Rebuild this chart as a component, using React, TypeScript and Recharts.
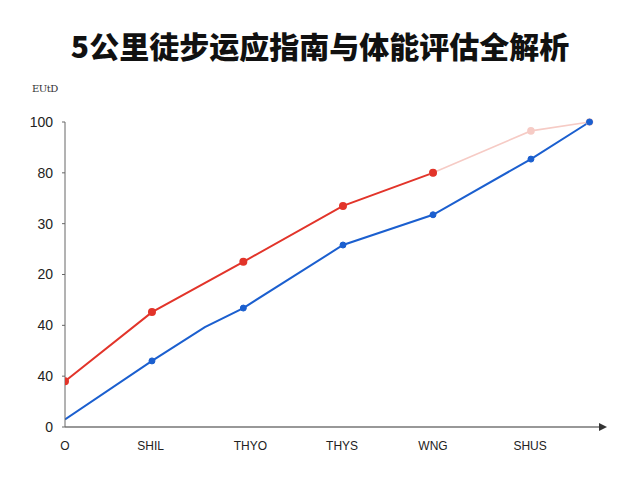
import React from 'react';
import { LineChart, Line, XAxis, YAxis } from 'recharts';

const TITLE = '5公里徒步运应指南与体能评估全解析';
const Y_NAME = 'EUtD';

// x positions of the tick labels, and their (garbled) texts
const xTicks = [0, 0.98, 2.12, 3.17, 4.21, 5.32];
const xTickLabels = ['O', 'SHIL', 'THYO', 'THYS', 'WNG', 'SHUS'];

const yTicks = [0, 20, 40, 60, 80, 100, 120];
const yTickLabels = ['0', '40', '40', '20', '30', '80', '100'];

const redX = [0, 0.995, 2.04, 3.18, 4.21];
const redY = [18, 45.2, 65, 87, 100];

const pinkX = [4.21, 5.33, 6.0];
const pinkY = [100, 116.5, 120];

const blueX = [0, 0.995, 1.6, 2.04, 3.18, 4.21, 5.33, 6.0];
const blueY = [3, 26, 39.3, 46.8, 71.6, 83.5, 105.4, 120];
const blueMarker = [false, true, false, true, true, true, true, true];

const RED = '#e2342a';
const PINK = '#f6cbc5';
const BLUE = '#1b5fcf';

const toPoints = (xs: number[], ys: number[]) => xs.map((x, i) => ({ x, y: ys[i] }));

const redData = toPoints(redX, redY);
const pinkData = toPoints(pinkX, pinkY);
const blueData = toPoints(blueX, blueY);

const FONT = '"Liberation Sans", Arial, sans-serif';

export default function App() {
  return (
    <div style={{ position: 'absolute', left: 0, top: 0, width: 640, height: 480, background: '#fff' }}>
      <div
        style={{
          position: 'absolute', top: 23, left: 0, width: 640, textAlign: 'center',
          fontFamily: '"Noto Sans CJK SC", sans-serif', fontWeight: 900, fontSize: 30, color: '#111',
        }}
      >
        {TITLE}
      </div>
      <div
        style={{
          position: 'absolute', top: 83, left: 32, fontFamily: '"DejaVu Serif", serif',
          fontSize: 10, color: '#333', letterSpacing: -0.5,
        }}
      >
        {Y_NAME}
      </div>
      <LineChart width={640} height={480} margin={{ top: 122, right: 40, bottom: 23, left: 0 }}>
        <defs>
          <marker id="xarrow" markerWidth="8" markerHeight="8" refX="1" refY="4" orient="auto" markerUnits="userSpaceOnUse">
            <path d="M0,0 L8,4 L0,8 Z" fill="#333" />
          </marker>
        </defs>
        <XAxis
          type="number"
          dataKey="x"
          domain={[0, 6.12]}
          ticks={xTicks}
          tickFormatter={(_v, i) => xTickLabels[i]}
          allowDataOverflow
          height={30}
          tickLine={false}
          tickMargin={8}
          axisLine={{ stroke: '#333', strokeWidth: 1.2, markerEnd: 'url(#xarrow)' }}
          tick={{ fill: '#222', fontSize: 12, fontFamily: FONT }}
        />
        <YAxis
          type="number"
          dataKey="y"
          domain={[0, 120]}
          ticks={yTicks}
          tickFormatter={(_v, i) => yTickLabels[i]}
          width={65}
          tickSize={3}
          tickMargin={9}
          axisLine={{ stroke: '#666', strokeWidth: 1 }}
          tickLine={{ stroke: '#666' }}
          tick={{ fill: '#222', fontSize: 14, fontFamily: FONT }}
        />
        <Line
          data={pinkData}
          dataKey="y"
          type="linear"
          stroke={PINK}
          strokeWidth={1.6}
          dot={{ r: 3, fill: PINK, stroke: PINK }}
          isAnimationActive={false}
        />
        <Line
          data={redData}
          dataKey="y"
          type="linear"
          stroke={RED}
          strokeWidth={2}
          dot={{ r: 3, fill: RED, stroke: RED }}
          isAnimationActive={false}
        />
        <Line
          data={blueData}
          dataKey="y"
          type="linear"
          stroke={BLUE}
          strokeWidth={2}
          dot={(p: any) =>
            blueMarker[p.index] ? (
              <circle key={p.index} cx={p.cx} cy={p.cy} r={3} fill={BLUE} stroke={BLUE} />
            ) : (
              <g key={p.index} />
            )
          }
          isAnimationActive={false}
        />
      </LineChart>
    </div>
  );
}
